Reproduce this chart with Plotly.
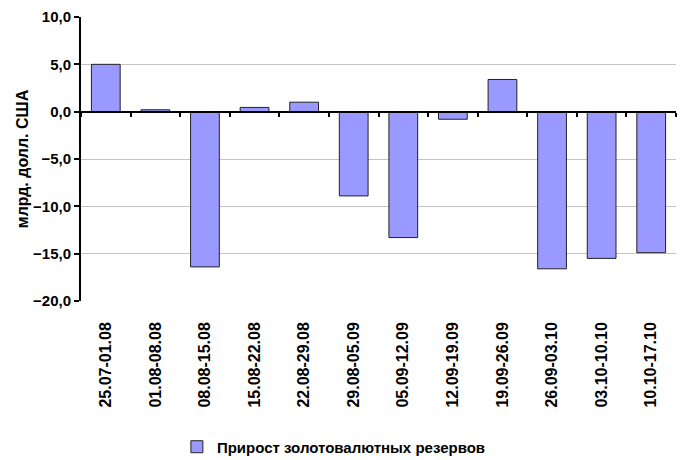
import plotly.graph_objects as go

categories = ["25.07-01.08", "01.08-08.08", "08.08-15.08", "15.08-22.08", "22.08-29.08",
              "29.08-05.09", "05.09-12.09", "12.09-19.09", "19.09-26.09", "26.09-03.10",
              "03.10-10.10", "10.10-17.10"]
values = [5.0, 0.2, -16.4, 0.45, 1.0, -8.9, -13.3, -0.8, 3.4, -16.6, -15.5, -14.9]
series_name = "Прирост золотовалютных резервов"
y_ticks = [10, 5, 0, -5, -10, -15, -20]

FONT = "Liberation Sans, Arial, sans-serif"

fig = go.Figure()
fig.add_trace(go.Bar(
    x=categories, y=values, name=series_name,
    marker=dict(color="#9999FF", line=dict(color="#222222", width=1)),
    showlegend=True,
))

ymin, ymax = -20, 10
n = len(categories)
zero_pos = (0 - ymin) / (ymax - ymin)

fig.update_layout(
    width=688, height=460,
    margin=dict(l=81, r=12, t=17, b=159, autoexpand=False),
    paper_bgcolor="white", plot_bgcolor="white",
    separators=",.",
    bargap=0.42,
    font=dict(family=FONT, size=12, color="black"),
    showlegend=True,
    legend=dict(orientation="h", x=0.425, xanchor="center", y=-0.514, yanchor="middle",
                font=dict(family=FONT, size=15, color="black", weight="bold"),
                itemwidth=30),
    xaxis=dict(
        type="category", range=[-0.5, n - 0.5], automargin=False,
        showline=False, showgrid=False, zeroline=False,
        tickangle=-90, ticks="", ticklabelstandoff=17,
        tickfont=dict(family=FONT, size=16, color="black", weight="bold"),
    ),
    xaxis2=dict(
        overlaying="x", anchor="free", position=zero_pos, automargin=False,
        range=[-0.5, n - 0.5], side="bottom",
        tickvals=[i + 0.5 for i in range(-1, n)],
        showticklabels=False, ticks="outside", ticklen=4, tickwidth=2, tickcolor="black",
        showline=True, linecolor="black", linewidth=2,
        showgrid=False, zeroline=False,
    ),
    yaxis=dict(
        range=[ymin, ymax], tickvals=y_ticks, tickformat=".1f", automargin=False,
        showline=True, linecolor="black", linewidth=2,
        ticks="outside", ticklen=5, tickwidth=2, tickcolor="black",
        showgrid=True, gridcolor="#C4C4C4", gridwidth=1,
        zeroline=False,
        tickfont=dict(family=FONT, size=15, color="black", weight="bold"),
        title=dict(text="млрд. долл. США", standoff=0,
                   font=dict(family=FONT, size=16, color="black", weight="bold")),
    ),
)

# invisible trace to activate the overlay axis at the zero line
fig.add_trace(go.Scatter(x=[-0.5, n - 0.5], y=[0, 0], xaxis="x2", mode="lines",
                         line=dict(width=0), showlegend=False, hoverinfo="skip"))

fig.write_html("out.html", config={"displayModeBar": False},
               post_script="document.body.style.margin='0';document.body.style.overflow='hidden';")
